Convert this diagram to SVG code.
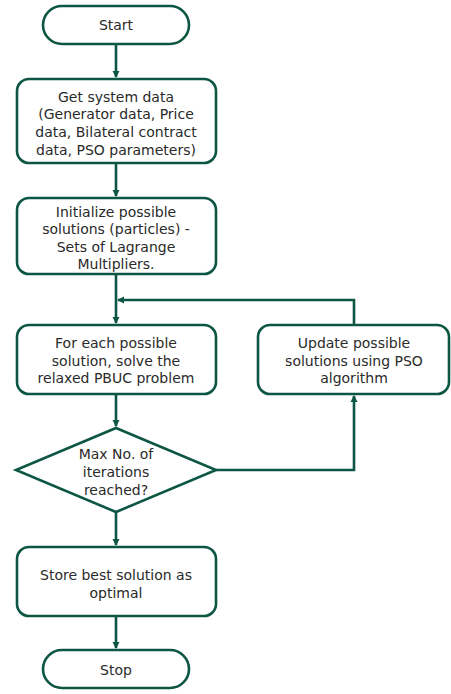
<svg xmlns="http://www.w3.org/2000/svg" width="451" height="694" viewBox="0 0 451 694">
<defs>
<marker id="ah" markerWidth="8" markerHeight="8" refX="6" refY="4" orient="auto" markerUnits="userSpaceOnUse">
<path d="M0,0.5 L7,4 L0,7.5 Z" fill="#0d5643"/>
</marker>
</defs>
<style>
.n{fill:#fff;stroke:#0d5643;stroke-width:2.6}
.c{fill:none;stroke:#0d5643;stroke-width:2.6}
text{font-family:"DejaVu Sans",sans-serif;font-size:14px;fill:#2a2a2a;text-anchor:middle}
</style>
<rect width="451" height="694" fill="#fff"/>
<g id="connectors">
<line class="c" x1="116" y1="44" x2="116" y2="77" marker-end="url(#ah)"/>
<line class="c" x1="116" y1="163" x2="116" y2="196" marker-end="url(#ah)"/>
<line class="c" x1="116" y1="274" x2="116" y2="323" marker-end="url(#ah)"/>
<polyline class="c" points="354,325 354,300 118,300" marker-end="url(#ah)"/>
<line class="c" x1="116" y1="394" x2="116" y2="426" marker-end="url(#ah)"/>
<polyline class="c" points="216,470 354,470 354,396" marker-end="url(#ah)"/>
<line class="c" x1="116" y1="512" x2="116" y2="545" marker-end="url(#ah)"/>
<line class="c" x1="116" y1="616" x2="116" y2="648" marker-end="url(#ah)"/>
</g>
<g id="start">
<rect class="n" x="43" y="6" width="146" height="38" rx="19"/>
<text x="116" y="30">Start</text>
</g>
<g id="get-data">
<rect class="n" x="17" y="79" width="199" height="84" rx="12"/>
<text x="116" y="102">Get system data</text>
<text x="116" y="119">(Generator data, Price</text>
<text x="116" y="137">data, Bilateral contract</text>
<text x="116" y="155">data, PSO parameters)</text>
</g>
<g id="init">
<rect class="n" x="17" y="198" width="199" height="76" rx="12"/>
<text x="116" y="217">Initialize possible</text>
<text x="116" y="234">solutions (particles) -</text>
<text x="116" y="252">Sets of Lagrange</text>
<text x="116" y="269">Multipliers.</text>
</g>
<g id="solve">
<rect class="n" x="17" y="325" width="199" height="69" rx="12"/>
<text x="116" y="348">For each possible</text>
<text x="116" y="366">solution, solve the</text>
<text x="116" y="383">relaxed PBUC problem</text>
</g>
<g id="update">
<rect class="n" x="258" y="325" width="191" height="69" rx="12"/>
<text x="354" y="348">Update possible</text>
<text x="354" y="366">solutions using PSO</text>
<text x="354" y="383">algorithm</text>
</g>
<g id="decision">
<polygon class="n" points="116,428 216,470 116,512 16,470"/>
<text x="116" y="459">Max No. of</text>
<text x="116" y="477">iterations</text>
<text x="116" y="495">reached?</text>
</g>
<g id="store">
<rect class="n" x="17" y="547" width="199" height="69" rx="12"/>
<text x="116" y="580">Store best solution as</text>
<text x="116" y="598">optimal</text>
</g>
<g id="stop">
<rect class="n" x="43" y="650" width="146" height="38" rx="19"/>
<text x="116" y="675">Stop</text>
</g>
</svg>
